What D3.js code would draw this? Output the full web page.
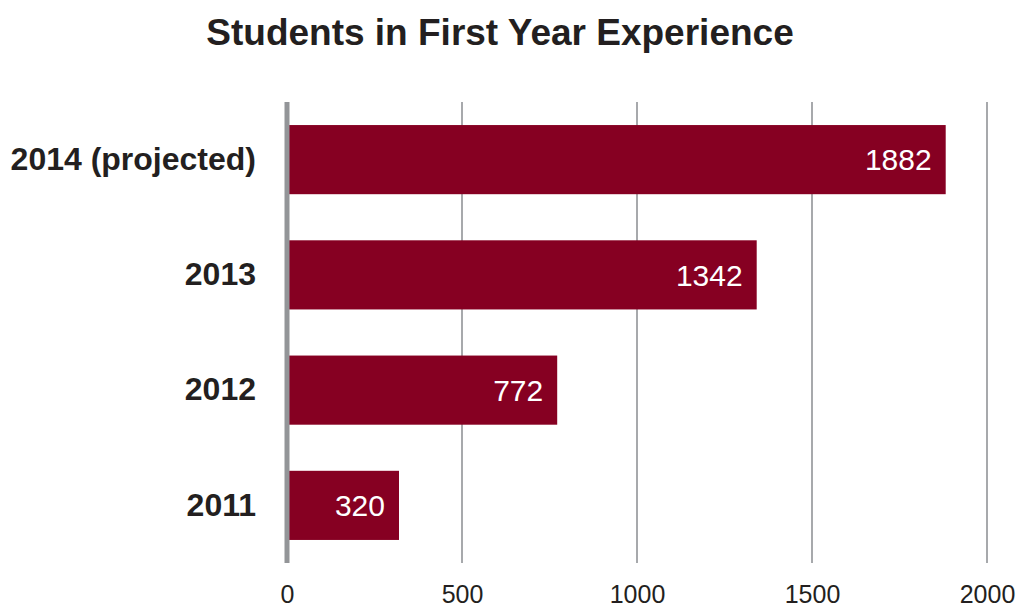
<!DOCTYPE html>
<html>
<head>
<meta charset="utf-8">
<script src="https://cdn.jsdelivr.net/npm/d3@7"></script>
<style>
  html, body { margin: 0; padding: 0; background: #fff; }
  svg { display: block; font-family: "Liberation Sans", Arial, Helvetica, sans-serif; }
</style>
</head>
<body>
<svg id="chart" width="1026" height="608"></svg>
<script>
// Enrollment in the First Year Experience program, by year
const categories = ["2014 (projected)", "2013", "2012", "2011"];
const values = [1882, 1342, 772, 320];
const tickValues = [0, 500, 1000, 1500, 2000];
const titleText = "Students in First Year Experience";

const W = 1026, H = 608;
const margin = { top: 102, right: 39, bottom: 45, left: 287 };
const svg = d3.select("#chart");

const x = d3.scaleLinear()
  .domain([0, 2000])
  .range([margin.left, W - margin.right]);

const y = d3.scaleBand()
  .domain(categories)
  .range([margin.top, H - margin.bottom])
  .paddingInner(0.4)
  .paddingOuter(0.2);

// Title
svg.append("text")
  .attr("x", 500)
  .attr("y", 45)
  .attr("text-anchor", "middle")
  .attr("font-size", 37)
  .attr("font-weight", "bold")
  .attr("fill", "#231f20")
  .text(titleText);

// Vertical gridlines
svg.append("g")
  .selectAll("line")
  .data(tickValues.slice(1))
  .join("line")
  .attr("x1", d => x(d)).attr("x2", d => x(d))
  .attr("y1", margin.top).attr("y2", H - margin.bottom)
  .attr("stroke", "#a7a9ac")
  .attr("stroke-width", 2);

// Bars
svg.append("g")
  .selectAll("rect")
  .data(values)
  .join("rect")
  .attr("x", x(0))
  .attr("y", (d, i) => y(categories[i]))
  .attr("width", d => x(d) - x(0))
  .attr("height", y.bandwidth())
  .attr("fill", "#860022");

// Value labels inside bar ends
svg.append("g")
  .selectAll("text")
  .data(values)
  .join("text")
  .attr("x", d => x(d) - 14)
  .attr("y", (d, i) => y(categories[i]) + y.bandwidth() / 2)
  .attr("dy", "0.36em")
  .attr("text-anchor", "end")
  .attr("font-size", 30)
  .attr("fill", "#ffffff")
  .text(d => d);

// Baseline (zero line)
svg.append("line")
  .attr("x1", x(0)).attr("x2", x(0))
  .attr("y1", margin.top).attr("y2", H - margin.bottom)
  .attr("stroke", "#939598")
  .attr("stroke-width", 5);

// Category axis labels
const yAxis = d3.axisLeft(y).tickSize(0).tickPadding(31);
const gy = svg.append("g")
  .attr("transform", `translate(${x(0)},0)`)
  .call(yAxis);
gy.select(".domain").remove();
gy.selectAll("text")
  .attr("font-size", 32)
  .attr("font-weight", "bold")
  .attr("font-family", "Liberation Sans, Arial, sans-serif")
  .attr("fill", "#231f20");

// Value axis tick labels
const xAxis = d3.axisBottom(x).tickValues(tickValues).tickSize(0).tickPadding(22)
  .tickFormat(d3.format("d"));
const gx = svg.append("g")
  .attr("transform", `translate(0,${H - margin.bottom})`)
  .call(xAxis);
gx.select(".domain").remove();
gx.selectAll("text")
  .attr("font-size", 25)
  .attr("font-family", "Liberation Sans, Arial, sans-serif")
  .attr("fill", "#231f20");
</script>
</body>
</html>
